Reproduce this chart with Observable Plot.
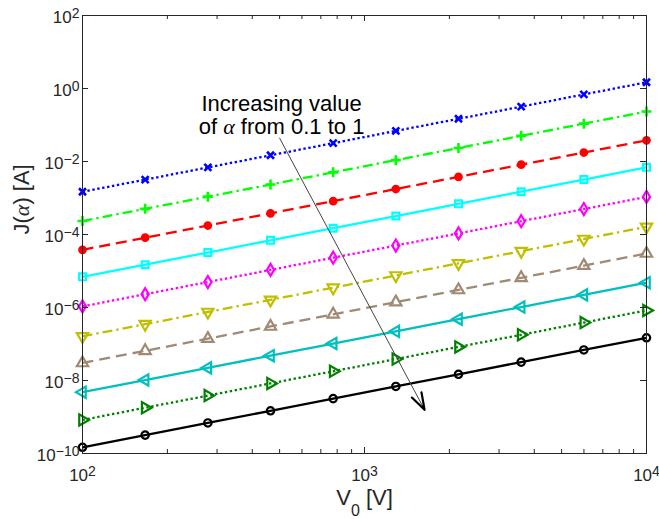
<!DOCTYPE html>
<html><head><meta charset="utf-8">
<script src="https://cdn.jsdelivr.net/npm/d3@7"></script>
<script src="https://cdn.jsdelivr.net/npm/@observablehq/plot@0.6"></script>
<style>html,body{margin:0;padding:0;background:#fff}</style>
</head><body><div id="chart"></div>
<script>
// ---------- data ----------
const V0 = [100, 166.8, 278.3, 464.2, 774.3, 1291.5, 2154.4, 3593.8, 5994.8, 10000];
const alphas = ["0.1", "0.2", "0.3", "0.4", "0.5", "0.6", "0.7", "0.8", "0.9", "1"];
const J_a01 = [1.48e-3, 3.18e-3, 6.87e-3, 1.48e-2, 3.18e-2, 6.87e-2, 1.48e-1, 3.18e-1, 6.87e-1, 1.48];
const J_a02 = [2.34e-4, 5.05e-4, 1.09e-3, 2.34e-3, 5.05e-3, 1.09e-2, 2.34e-2, 5.05e-2, 1.09e-1, 2.34e-1];
const J_a03 = [3.80e-5, 8.19e-5, 1.76e-4, 3.80e-4, 8.19e-4, 1.76e-3, 3.80e-3, 8.19e-3, 1.76e-2, 3.80e-2];
const J_a04 = [6.92e-6, 1.49e-5, 3.21e-5, 6.92e-5, 1.49e-4, 3.21e-4, 6.92e-4, 1.49e-3, 3.21e-3, 6.92e-3];
const J_a05 = [1.07e-6, 2.31e-6, 4.98e-6, 1.07e-5, 2.31e-5, 4.98e-5, 1.07e-4, 2.31e-4, 4.98e-4, 1.07e-3];
const J_a06 = [1.62e-7, 3.49e-7, 7.53e-7, 1.62e-6, 3.49e-6, 7.53e-6, 1.62e-5, 3.49e-5, 7.53e-5, 1.62e-4];
const J_a07 = [3.02e-8, 6.51e-8, 1.40e-7, 3.02e-7, 6.51e-7, 1.40e-6, 3.02e-6, 6.51e-6, 1.40e-5, 3.02e-5];
const J_a08 = [4.79e-9, 1.03e-8, 2.22e-8, 4.79e-8, 1.03e-7, 2.22e-7, 4.79e-7, 1.03e-6, 2.22e-6, 4.79e-6];
const J_a09 = [8.32e-10, 1.79e-9, 3.86e-9, 8.32e-9, 1.79e-8, 3.86e-8, 8.32e-8, 1.79e-7, 3.86e-7, 8.32e-7];
const J_a10 = [1.48e-10, 3.19e-10, 6.87e-10, 1.48e-9, 3.19e-9, 6.87e-9, 1.48e-8, 3.19e-8, 6.87e-8, 1.48e-7];
const seriesJ = [J_a01, J_a02, J_a03, J_a04, J_a05, J_a06, J_a07, J_a08, J_a09, J_a10];

const xMajor = [100, 1000, 10000];
const xTickLabels = ["10^2", "10^3", "10^4"];
const xMinor = [200, 300, 400, 500, 600, 700, 800, 900, 2000, 3000, 4000, 5000, 6000, 7000, 8000, 9000];
const yMajor = [1e-10, 1e-8, 1e-6, 1e-4, 1e-2, 1, 100];
const yTickLabels = ["10^-10", "10^-8", "10^-6", "10^-4", "10^-2", "10^0", "10^2"];
const xLabel = "V0 [V]";
const yLabel = "J(α) [A]";
const annotationText = "Increasing value\nof α from 0.1 to 1";
const annotationAt = [{x: 508, y: 0.70}];
const arrowAt = [{x1: 500, y1: 0.0437, x2: 1633, y2: 1.58e-9}];

// ---------- styles ----------
const colors = ["#0000ff", "#00ff00", "#ff0000", "#00ffff", "#ff00ff", "#bfbf00", "#a08a74", "#00bfbf", "#008000", "#000000"];
const dots = "2.4,2.6", dashes = "11,6", dashdot = "10,4,2.4,4";
const dashArr = [dots, dashdot, dashes, null, dots, dashdot, dashes, null, dots, null];

function poly(pts) {
  return {draw(ctx, size) {
    const R = Math.sqrt(size / Math.PI);
    ctx.moveTo(pts[0][0] * R, pts[0][1] * R);
    for (let i = 1; i < pts.length; i++) ctx.lineTo(pts[i][0] * R, pts[i][1] * R);
    ctx.closePath();
  }};
}
const symTimes = {draw(ctx, size) { const R = Math.sqrt(size / Math.PI); ctx.moveTo(-R, -R); ctx.lineTo(R, R); ctx.moveTo(R, -R); ctx.lineTo(-R, R); }};
const symPlus = {draw(ctx, size) { const R = Math.sqrt(size / Math.PI); ctx.moveTo(-R, 0); ctx.lineTo(R, 0); ctx.moveTo(0, -R); ctx.lineTo(0, R); }};
const symCircle = {draw(ctx, size) { const R = Math.sqrt(size / Math.PI); ctx.moveTo(R, 0); ctx.arc(0, 0, R, 0, 2 * Math.PI); }};
const symSquare = poly([[-1, -1], [1, -1], [1, 1], [-1, 1]]);
const symDiamond = poly([[0, -1], [0.6, 0], [0, 1], [-0.6, 0]]);
const triDown = poly([[0, 1], [-0.866, -0.5], [0.866, -0.5]]);
const triUp = poly([[0, -1], [0.866, 0.5], [-0.866, 0.5]]);
const triLeft = poly([[-1, 0], [0.5, -0.866], [0.5, 0.866]]);
const triRight = poly([[1, 0], [-0.5, -0.866], [-0.5, 0.866]]);
const markers = [
  {symbol: symTimes, r: 3.5, fill: "none", sw: 2.6},
  {symbol: symPlus, r: 5, fill: "none", sw: 2.6},
  {symbol: symCircle, r: 3.6, fill: "#ff0000", sw: 1.5},
  {symbol: symSquare, r: 3.4, fill: "none", sw: 2.2},
  {symbol: symDiamond, r: 6, fill: "none", sw: 2.2},
  {symbol: triDown, r: 6.5, fill: "none", sw: 2.2},
  {symbol: triUp, r: 6.5, fill: "none", sw: 2.2},
  {symbol: triLeft, r: 6.5, fill: "none", sw: 2.2},
  {symbol: triRight, r: 6.5, fill: "none", sw: 2.2},
  {symbol: symCircle, r: 3.7, fill: "none", sw: 2.2}
];

// ---------- table ----------
const rows = seriesJ.map((J, s) => V0.map((v, i) => ({alpha: alphas[s], V: v, J: J[i]})));

const ink = "#262626";
const W = 659, H = 519, mL = 82, mR = 13, mT = 15, mB = 66;
const pw = W - mL - mR, ph = H - mT - mB;

const marks = [];
rows.forEach((data, s) => {
  marks.push(Plot.line(data, {x: "V", y: "J", stroke: colors[s], strokeWidth: 2.3, strokeDasharray: dashArr[s] || undefined, strokeLinecap: "butt"}));
});
rows.forEach((data, s) => {
  const m = markers[s];
  marks.push(Plot.dot(data, {x: "V", y: "J", symbol: m.symbol, r: m.r, fill: m.fill, stroke: colors[s], strokeWidth: m.sw}));
});
marks.push(
  Plot.frame({stroke: ink, strokeWidth: 1}),
  Plot.tickX(xMajor, {x: d => d, insetTop: ph - 6, stroke: ink}),
  Plot.tickX(xMajor, {x: d => d, insetBottom: ph - 6, stroke: ink}),
  Plot.tickX(xMinor, {x: d => d, insetTop: ph - 4, stroke: ink}),
  Plot.tickX(xMinor, {x: d => d, insetBottom: ph - 4, stroke: ink}),
  Plot.tickY(yMajor, {y: d => d, insetRight: pw - 6, stroke: ink}),
  Plot.tickY(yMajor, {y: d => d, insetLeft: pw - 6, stroke: ink}),
  Plot.axisX(xMajor, {anchor: "bottom", tickSize: 0, tickPadding: 15, fontSize: 17, fill: ink, label: null,
    tickFormat: d => xTickLabels[xMajor.indexOf(d)]}),
  Plot.axisY(yMajor, {anchor: "left", tickSize: 0, tickPadding: 3, fontSize: 17, fill: ink, label: null, dy: 2,
    tickFormat: d => yTickLabels[yMajor.indexOf(d)]}),
  Plot.text([xLabel], {frameAnchor: "bottom", text: d => d, lineAnchor: "top", dy: 36, fontSize: 22, fill: ink}),
  Plot.text([yLabel], {frameAnchor: "left", text: d => d, rotate: -90, lineAnchor: "middle", dx: -61, fontSize: 22, fill: ink}),
  Plot.arrow(arrowAt, {x1: "x1", y1: "y1", x2: "x2", y2: "y2", stroke: "#444", strokeWidth: 1, headLength: 0}),
  Plot.arrow(arrowAt, {x1: "x1", y1: "y1", x2: "x2", y2: "y2", stroke: "#000", strokeWidth: 2.2, headLength: 12, headAngle: 36, insetStart: 304}),
  Plot.text(annotationAt, {x: "x", y: "y", text: () => annotationText, lineAnchor: "top", lineHeight: 1.07, fontSize: 22, fill: "#000"})
);

const chart = Plot.plot({
  width: W, height: H,
  marginLeft: mL, marginRight: mR, marginTop: mT, marginBottom: mB,
  x: {type: "log", domain: [100, 10000]},
  y: {type: "log", domain: [1e-10, 100]},
  style: {fontFamily: "'Liberation Sans', Arial, Helvetica, sans-serif", background: "#fff", color: ink},
  marks
});

// ---------- rich text (super/subscripts, italic alpha) ----------
const NS = "http://www.w3.org/2000/svg";
function rich(el, parts) {
  el.textContent = "";
  for (const p of parts) {
    if (typeof p === "string") el.appendChild(document.createTextNode(p));
    else {
      const t = document.createElementNS(NS, "tspan");
      for (const [k, v] of Object.entries(p.attrs)) t.setAttribute(k, v);
      t.textContent = p.text;
      el.appendChild(t);
    }
  }
}
const alphaSpan = {text: "α", attrs: {"font-style": "italic", "font-family": "'Liberation Serif', 'DejaVu Serif', serif"}};
d3.select(chart).selectAll("text").each(function () {
  if (this.children.length) return;
  const s = this.textContent;
  const m = /^10\^(-?\d+)$/.exec(s);
  if (m) {
    rich(this, ["10", {text: m[1].replace("-", "\u2212"), attrs: {dy: "-5", "font-size": "14px"}}]);
  } else if (s === xLabel) {
    rich(this, ["V", {text: "0", attrs: {dy: "11", "font-size": "16px"}}, {text: " [V]", attrs: {dy: "-11"}}]);
  } else if (s === yLabel) {
    rich(this, ["J(", alphaSpan, ") [A]"]);
  }
});
d3.select(chart).selectAll("tspan").each(function () {
  if (this.textContent === "of α from 0.1 to 1") rich(this, ["of ", alphaSpan, " from 0.1 to 1"]);
});

document.getElementById("chart").appendChild(chart);
</script>
</body></html>
